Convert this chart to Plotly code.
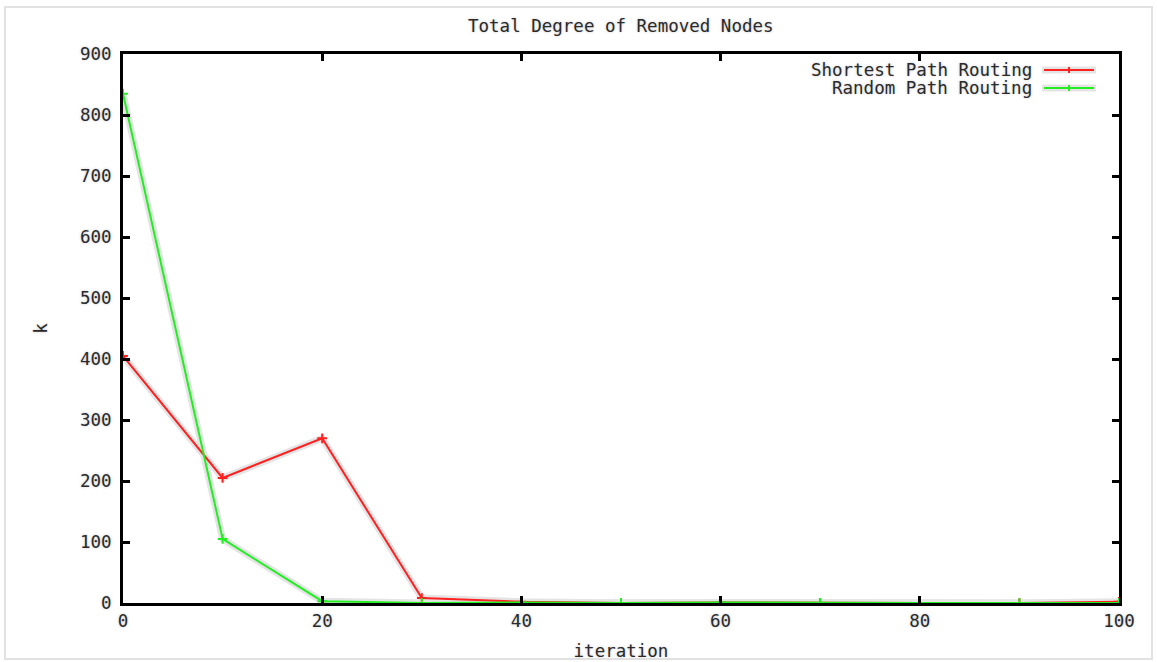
import plotly.graph_objects as go

# Removal iterations and total degree of the nodes removed at each step
iterations = [0, 10, 20, 30, 40, 50, 60, 70, 80, 90, 100]
shortest_path = [405, 205, 270, 8, 2, 0, 1, 0, 0, 0, 2]
random_path = [835, 105, 3, 0, 1, 0, 1, 0, 0, 0, 0]

x_ticks = [0, 20, 40, 60, 80, 100]
y_ticks = [0, 100, 200, 300, 400, 500, 600, 700, 800, 900]

series_names = ["Shortest Path Routing", "Random Path Routing"]
series_colors = ["#ff2020", "#22ee22"]

FONT = "DejaVu Sans Mono"
HALO = "#e4e4e4"
TEXT_SHADOW = "0px 0px 3px #c4c4c4"
TEXT_COLOR = "#2a2a2a"

W, H = 1157, 662
L, R, T, B = 123, 38, 54, 59
pw, ph = W - L - R, H - T - B


def px_x(p):
    return (p - L) / pw


def px_y(p):
    return (H - B - p) / ph


def text_font():
    return dict(family=FONT, size=17.5, color=TEXT_COLOR, shadow=TEXT_SHADOW)


fig = go.Figure()

# soft grey halo under each curve
for ys in (shortest_path, random_path):
    fig.add_trace(go.Scatter(
        x=iterations, y=ys, mode="lines",
        line=dict(color=HALO, width=7),
        hoverinfo="skip", showlegend=False,
    ))

for name, ys, col in zip(series_names, [shortest_path, random_path], series_colors):
    fig.add_trace(go.Scatter(
        x=iterations, y=ys, name=name, mode="lines+markers",
        line=dict(color=col, width=2),
        marker=dict(symbol="cross-thin", size=7, line=dict(color=col, width=2)),
        showlegend=False,
    ))

axis_common = dict(
    showline=True, linecolor="black", linewidth=3, mirror="allticks",
    ticks="inside", ticklen=7, tickwidth=3, tickcolor="black",
    showgrid=False, zeroline=False, automargin=False,
    tickfont=text_font(),
)

fig.update_xaxes(
    range=[0, 100], tickvals=x_ticks, ticktext=[str(v) for v in x_ticks],
    title=dict(text="iteration", standoff=15, font=text_font()),
    **axis_common,
)
fig.update_yaxes(
    range=[0, 900], tickvals=y_ticks, ticktext=[str(v) for v in y_ticks],
    ticklabelstandoff=5,
    title=dict(text="k", standoff=28, font=text_font()),
    **axis_common,
)

annotations = [
    dict(text="Total Degree of Removed Nodes", xref="paper", yref="paper",
         x=0.5, y=px_y(26), xanchor="center", yanchor="middle", showarrow=False,
         font=text_font()),
]
shapes = [
    # light outer frame
    dict(type="rect", xref="paper", yref="paper",
         x0=px_x(5), x1=px_x(1152), y0=px_y(659), y1=px_y(7),
         line=dict(color="#e2e2e2", width=2), layer="below"),
]

# legend drawn in gnuplot style: right-aligned text, sample line on the right
legend_rows = [70, 88]
for name, col, row in zip(series_names, series_colors, legend_rows):
    annotations.append(dict(
        text=name, xref="paper", yref="paper", x=px_x(1034), y=px_y(row),
        xanchor="right", yanchor="middle", showarrow=False, font=text_font()))
    shapes.append(dict(type="line", xref="paper", yref="paper",
                       x0=px_x(1042), x1=px_x(1096), y0=px_y(row), y1=px_y(row),
                       line=dict(color=HALO, width=7)))
    shapes.append(dict(type="line", xref="paper", yref="paper",
                       x0=px_x(1044), x1=px_x(1094), y0=px_y(row), y1=px_y(row),
                       line=dict(color=col, width=2)))
    shapes.append(dict(type="line", xref="paper", yref="paper",
                       x0=px_x(1069), x1=px_x(1069), y0=px_y(row - 3), y1=px_y(row + 3),
                       line=dict(color=col, width=2)))

fig.update_layout(
    width=W, height=H,
    margin=dict(l=L, r=R, t=T, b=B, autoexpand=False),
    paper_bgcolor="white", plot_bgcolor="white",
    annotations=annotations, shapes=shapes,
    showlegend=False,
)

fig.write_html("out.html")
